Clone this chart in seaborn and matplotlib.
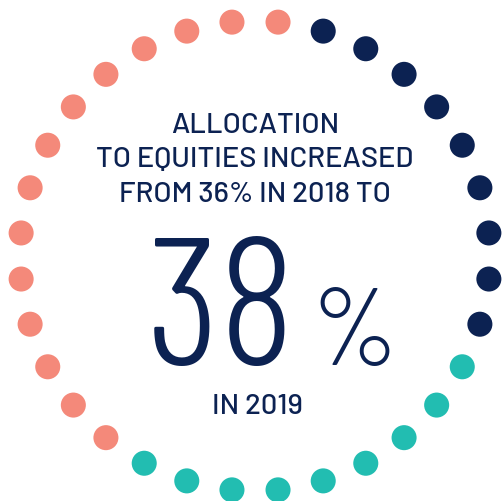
import matplotlib
matplotlib.use("Agg")
import numpy as np
import pandas as pd
import matplotlib.pyplot as plt
import seaborn as sns

# ---- data ----
segments = ["Segment 1", "Segment 2", "Segment 3"]
dot_counts = [9, 9, 14]
segment_colors = ["#0c2252", "#22bdb1", "#f4897a"]

headline_lines = ["ALLOCATION", "TO EQUITIES INCREASED", "FROM 36% IN 2018 TO"]
big_value = "38"
big_unit = "%"
footer_text = "IN 2019"

# ---- layout ----
W, H = 503, 502
cx, cy, r = 255.0, 257.0, 235.0
n_total = sum(dot_counts)
step = 360.0 / n_total
start = step * 1.5

labels = np.repeat(segments, dot_counts)
ang = np.deg2rad(start + step * np.arange(n_total))
df = pd.DataFrame({
    "segment": labels,
    "x": cx + r * np.sin(ang),
    "y": cy - r * np.cos(ang),
})

sns.set_theme(style="white")
plt.rcParams["font.family"] = ["Barlow", "DejaVu Sans"]

fig = plt.figure(figsize=(W / 100, H / 100), dpi=100)
ax = fig.add_axes([0, 0, 1, 1])
sns.scatterplot(data=df, x="x", y="y", hue="segment", hue_order=segments,
                palette=segment_colors, s=325, linewidth=0, legend=False, ax=ax)
ax.set_xlim(0, W)
ax.set_ylim(H, 0)
ax.set_axis_off()

navy = segment_colors[0]
small_font = ["Barlow", "DejaVu Sans"]
big_font = ["Barlow Condensed", "DejaVu Sans"]
for txt, yb in zip(headline_lines, [133.3, 167.3, 201.7]):
    ax.text(255, yb, txt, ha="center", va="baseline", color=navy,
            fontsize=21, fontweight=500, family=small_font)

ax.text(221, 365, big_value, ha="center", va="baseline", color=navy,
        fontsize=131, fontweight=300, family=big_font)
ax.text(354, 365, big_unit, ha="center", va="baseline", color=navy,
        fontsize=79, fontweight=300, family=big_font)
ax.text(257, 414, footer_text, ha="center", va="baseline", color=navy,
        fontsize=21, fontweight=500, family=small_font)

fig.savefig("out.png", dpi=100)
